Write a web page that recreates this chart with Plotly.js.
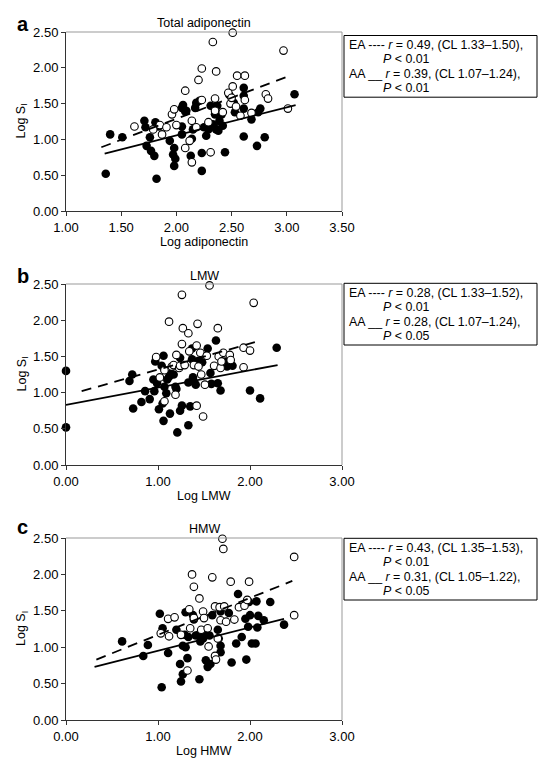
<!DOCTYPE html>
<html>
<head>
<meta charset="utf-8">
<script src="https://cdn.plot.ly/plotly-3.0.1.min.js"></script>
<style>html,body{margin:0;padding:0;background:#fff;}#chart{width:540px;height:767px;}</style>
</head>
<body>
<div id="chart"></div>
<script>
// ---------- Panel a: Total adiponectin ----------
const aFilledX = [1.36,1.40,1.51,1.71,1.72,1.73,1.76,1.77,1.80,1.81,1.84,1.82,1.94,1.98,1.97,1.99,1.98,2.05,2.06,2.05,2.05,2.08,2.09,2.14,2.13,2.15,2.17,2.18,2.21,2.23,2.23,2.25,2.27,2.29,2.31,2.33,2.35,2.36,2.37,2.39,2.41,2.42,2.38,2.44,2.48,2.52,2.53,2.61,2.61,2.61,2.61,2.68,2.73,2.74,2.76,2.80,3.07];
const aFilledY = [0.52,1.07,1.03,1.26,1.17,0.91,1.03,0.84,0.77,1.24,1.18,0.45,0.98,0.88,0.79,0.73,0.63,1.44,1.48,1.18,1.07,1.39,1.40,1.01,0.77,1.14,1.44,1.51,1.54,0.56,0.81,1.17,1.05,1.14,1.47,1.21,1.35,1.14,1.47,1.26,1.35,1.19,1.12,0.82,1.62,1.51,1.38,1.72,1.61,1.43,1.04,1.28,0.91,1.38,1.43,1.03,1.63];
const aOpenX = [1.62,1.79,1.85,1.87,1.91,1.96,1.98,2.00,2.08,2.08,2.12,2.14,2.14,2.18,2.20,2.23,2.23,2.29,2.31,2.33,2.35,2.35,2.36,2.42,2.47,2.49,2.50,2.51,2.51,2.54,2.55,2.58,2.62,2.62,2.68,2.81,2.83,2.97,3.01];
const aOpenY = [1.18,1.14,1.20,1.07,1.17,1.35,1.42,1.20,1.68,0.88,0.98,1.26,0.68,1.17,1.83,1.55,1.99,1.24,0.82,2.36,1.40,1.57,1.95,1.38,1.65,1.50,1.58,1.74,2.49,1.46,1.89,1.33,1.89,1.55,1.37,1.63,1.57,2.24,1.43];
const aEALineX = [1.32,3.01], aEALineY = [0.89,1.88];
const aAALineX = [1.35,3.08], aAALineY = [0.80,1.48];

// ---------- Panel b: LMW ----------
const bFilledX = [0.00,0.00,0.69,0.72,0.73,0.82,0.86,0.91,0.96,0.97,0.95,0.99,1.01,1.05,1.06,1.04,1.06,1.07,1.09,1.10,1.12,1.13,1.14,1.17,1.19,1.20,1.21,1.24,1.24,1.26,1.33,1.33,1.35,1.37,1.38,1.39,1.41,1.37,1.44,1.48,1.54,1.57,1.58,1.63,1.65,1.68,1.73,1.75,1.81,2.00,2.11,2.29];
const bFilledY = [1.30,0.52,1.16,1.25,0.78,0.87,1.02,0.91,1.02,1.43,1.18,1.13,0.77,0.85,1.51,1.37,0.61,1.08,0.99,1.18,1.22,0.71,1.26,1.25,1.08,1.05,0.45,1.48,0.75,0.82,0.55,1.14,0.81,1.61,1.21,1.15,1.11,1.46,1.44,1.42,1.61,1.27,1.12,1.72,1.13,1.03,1.43,1.36,1.37,1.03,0.92,1.62];
const bOpenX = [0.98,1.02,1.07,1.07,1.12,1.15,1.17,1.19,1.20,1.23,1.24,1.26,1.26,1.27,1.29,1.33,1.34,1.39,1.42,1.43,1.42,1.44,1.46,1.47,1.49,1.51,1.53,1.56,1.61,1.65,1.66,1.68,1.69,1.71,1.78,1.79,1.93,1.93,2.00,2.04];
const bOpenY = [1.49,1.21,0.88,1.31,1.98,1.36,1.38,0.97,1.52,1.34,1.37,2.35,1.67,1.89,1.38,1.82,1.57,1.38,1.65,1.95,0.82,1.36,1.55,1.25,0.67,1.11,1.51,2.48,1.37,1.89,1.50,1.34,1.43,1.55,1.52,1.45,1.62,1.35,1.58,2.24];
const bEALineX = [0.17,2.12], bEALineY = [1.02,1.72];
const bAALineX = [0.00,2.30], bAALineY = [0.83,1.38];

// ---------- Panel c: HMW ----------
const cFilledX = [0.61,0.84,0.89,1.02,1.05,1.04,1.11,1.20,1.25,1.24,1.27,1.27,1.29,1.30,1.30,1.32,1.33,1.38,1.39,1.41,1.44,1.45,1.46,1.49,1.51,1.52,1.54,1.57,1.56,1.59,1.65,1.66,1.68,1.68,1.68,1.77,1.80,1.85,1.87,1.91,1.95,1.96,1.98,1.99,2.00,2.02,2.06,2.07,2.08,2.09,2.15,2.22,2.37];
const cFilledY = [1.08,0.88,1.03,1.46,1.26,0.45,0.92,1.24,0.53,0.77,0.63,1.02,1.17,1.48,1.00,0.85,1.14,1.44,1.38,1.16,1.17,0.56,1.08,1.12,1.17,0.82,0.73,0.77,1.16,1.44,1.24,1.12,1.02,0.93,1.49,1.47,0.79,1.05,1.73,1.14,1.39,0.83,1.28,1.62,1.44,1.05,1.05,1.63,1.27,1.43,1.37,1.62,1.31];
const cOpenX = [1.03,1.11,1.12,1.18,1.25,1.32,1.34,1.35,1.37,1.39,1.39,1.45,1.47,1.49,1.50,1.54,1.55,1.59,1.62,1.63,1.62,1.65,1.67,1.68,1.70,1.71,1.72,1.74,1.79,1.83,1.88,1.94,1.97,1.99,2.48,2.48];
const cOpenY = [1.19,1.39,1.15,1.41,1.17,0.68,1.52,1.26,2.00,1.83,1.40,1.67,1.24,1.49,1.40,1.26,1.01,1.96,0.88,0.83,1.56,1.12,1.55,1.37,2.49,2.35,1.56,1.35,1.90,1.38,1.55,1.57,1.65,1.90,2.24,1.44];
const cEALineX = [0.33,2.46], cEALineY = [0.83,1.91];
const cAALineX = [0.31,2.37], cAALineY = [0.73,1.39];

// ---------- Text ----------
const panelLetters = ["a","b","c"];
const panelTitles = ["Total adiponectin","LMW","HMW"];
const xTitles = ["Log adiponectin","Log LMW","Log HMW"];
const yTitle = "Log S<sub>I</sub>";
const xTicksA = [1.0,1.5,2.0,2.5,3.0,3.5];
const xTicksBC = [0,1,2,3];
const yTicks = [0,0.5,1.0,1.5,2.0,2.5];
const legendA = ["EA ---- <i>r</i> = 0.49, (CL 1.33–1.50),","<i>P</i> &lt; 0.01","AA __ <i>r</i> = 0.39, (CL 1.07–1.24),","<i>P</i> &lt; 0.01"];
const legendB = ["EA ---- <i>r</i> = 0.28, (CL 1.33–1.52),","<i>P</i> &lt; 0.01","AA __ <i>r</i> = 0.28, (CL 1.07–1.24),","<i>P</i> &lt; 0.05"];
const legendC = ["EA ---- <i>r</i> = 0.43, (CL 1.35–1.53),","<i>P</i> &lt; 0.01","AA __ <i>r</i> = 0.31, (CL 1.05–1.22),","<i>P</i> &lt; 0.05"];

// ---------- Build ----------
const FONT = "Liberation Sans, Arial, Helvetica, sans-serif";
const W = 540, H = 767, ML = 66, MR = 198, MT = 32, MB = 47;
const PW = W - ML - MR, PH = H - MT - MB;
const px2x = p => (p - ML) / PW;
const px2y = p => (H - MB - p) / PH;

const panels = [
  {fx:aFilledX, fy:aFilledY, ox:aOpenX, oy:aOpenY, ex:aEALineX, ey:aEALineY, sx:aAALineX, sy:aAALineY, leg:legendA, xr:[1,3.5], xt:xTicksA, top:32, bot:211, titleY:23, letterY:24, boxTop:35.5},
  {fx:bFilledX, fy:bFilledY, ox:bOpenX, oy:bOpenY, ex:bEALineX, ey:bEALineY, sx:bAALineX, sy:bAALineY, leg:legendB, xr:[0,3], xt:xTicksBC, top:284, bot:465, titleY:276, letterY:276, boxTop:283.3},
  {fx:cFilledX, fy:cFilledY, ox:cOpenX, oy:cOpenY, ex:cEALineX, ey:cEALineY, sx:cAALineX, sy:cAALineY, leg:legendC, xr:[0,3], xt:xTicksBC, top:538, bot:720, titleY:528.5, letterY:527, boxTop:538.3}
];

const traces = [];
const layout = {
  width: W, height: H,
  margin: {l:ML, r:MR, t:MT, b:MB, pad:0},
  paper_bgcolor: "#fff", plot_bgcolor: "#fff",
  showlegend: false,
  font: {family: FONT, color: "#000", size: 12},
  annotations: [], shapes: []
};

panels.forEach((p, i) => {
  const n = i === 0 ? "" : String(i + 1);
  const xa = "x" + n, ya = "y" + n;
  traces.push({x:p.fx, y:p.fy, xaxis:xa, yaxis:ya, type:"scatter", mode:"markers", cliponaxis:false,
    marker:{symbol:"circle", size:8.6, color:"#000", line:{width:0}}});
  traces.push({x:p.ox, y:p.oy, xaxis:xa, yaxis:ya, type:"scatter", mode:"markers", cliponaxis:false,
    marker:{symbol:"circle", size:7.6, color:"#fff", line:{width:1.1, color:"#000"}}});
  traces.push({x:p.ex, y:p.ey, xaxis:xa, yaxis:ya, type:"scatter", mode:"lines",
    line:{color:"#000", width:1.8, dash:"10px,7px"}});
  traces.push({x:p.sx, y:p.sy, xaxis:xa, yaxis:ya, type:"scatter", mode:"lines",
    line:{color:"#000", width:1.8}});

  layout["xaxis" + n] = {
    domain:[0,1], anchor:ya, range:p.xr, tickvals:p.xt, tickformat:".2f",
    ticks:"outside", ticklen:4, tickwidth:1, tickcolor:"#333",
    showline:true, linecolor:"#333", linewidth:1, showgrid:false, zeroline:false,
    tickfont:{family:FONT, size:13, color:"#000"}, fixedrange:true
  };
  layout["yaxis" + n] = {
    domain:[px2y(p.bot), px2y(p.top)], anchor:xa, range:[0,2.5], tickvals:yTicks, tickformat:".2f",
    ticks:"outside", ticklen:4, tickwidth:1, tickcolor:"#333",
    showline:true, linecolor:"#333", linewidth:1, showgrid:false, zeroline:false,
    tickfont:{family:FONT, size:13, color:"#000"}, fixedrange:true
  };
  // top & right frame lines
  layout.shapes.push({type:"line", xref:xa+" domain", yref:ya+" domain", x0:0, x1:1, y0:1, y1:1, line:{color:"#999", width:1}});
  layout.shapes.push({type:"line", xref:xa+" domain", yref:ya+" domain", x0:1, x1:1, y0:0, y1:1, line:{color:"#999", width:1}});
  // legend box
  const lineStep = 14.4;
  const firstLine = p.boxTop + 9.5;
  const boxBot = firstLine + 3 * lineStep + 9;
  layout.shapes.push({type:"rect", xref:"paper", yref:"paper", x0:px2x(344), x1:px2x(537), y0:px2y(boxBot), y1:px2y(p.boxTop), line:{color:"#000", width:1}});
  p.leg.forEach((t, k) => {
    layout.annotations.push({xref:"paper", yref:"paper", x:px2x(k % 2 === 0 ? 347.5 : 382), y:px2y(firstLine + k * lineStep),
      xanchor:"left", yanchor:"middle", showarrow:false, borderpad:0, text:t, font:{family:FONT, size:12.4, color:"#000"}});
  });
  // panel title
  layout.annotations.push({xref:"paper", yref:"paper", x:0.5, y:px2y(p.titleY), xanchor:"center", yanchor:"middle",
    showarrow:false, text:panelTitles[i], font:{family:FONT, size:12.5, color:"#000"}});
  // letter
  layout.annotations.push({xref:"paper", yref:"paper", x:px2x(22.5), y:px2y(p.letterY), xanchor:"center", yanchor:"middle",
    showarrow:false, text:"<b>" + panelLetters[i] + "</b>", font:{family:FONT, size:20, color:"#000"}});
  // x title
  layout.annotations.push({xref:"paper", yref:"paper", x:0.5, y:px2y(p.bot + 31), xanchor:"center", yanchor:"middle",
    showarrow:false, text:xTitles[i], font:{family:FONT, size:12.5, color:"#000"}});
  // y title
  layout.annotations.push({xref:"paper", yref:"paper", x:px2x(22), y:px2y((p.top + p.bot) / 2), xanchor:"center", yanchor:"middle",
    textangle:-90, showarrow:false, text:yTitle, font:{family:FONT, size:12.5, color:"#000"}});
});

Plotly.newPlot("chart", traces, layout, {staticPlot:true, displayModeBar:false});
</script>
</body>
</html>
